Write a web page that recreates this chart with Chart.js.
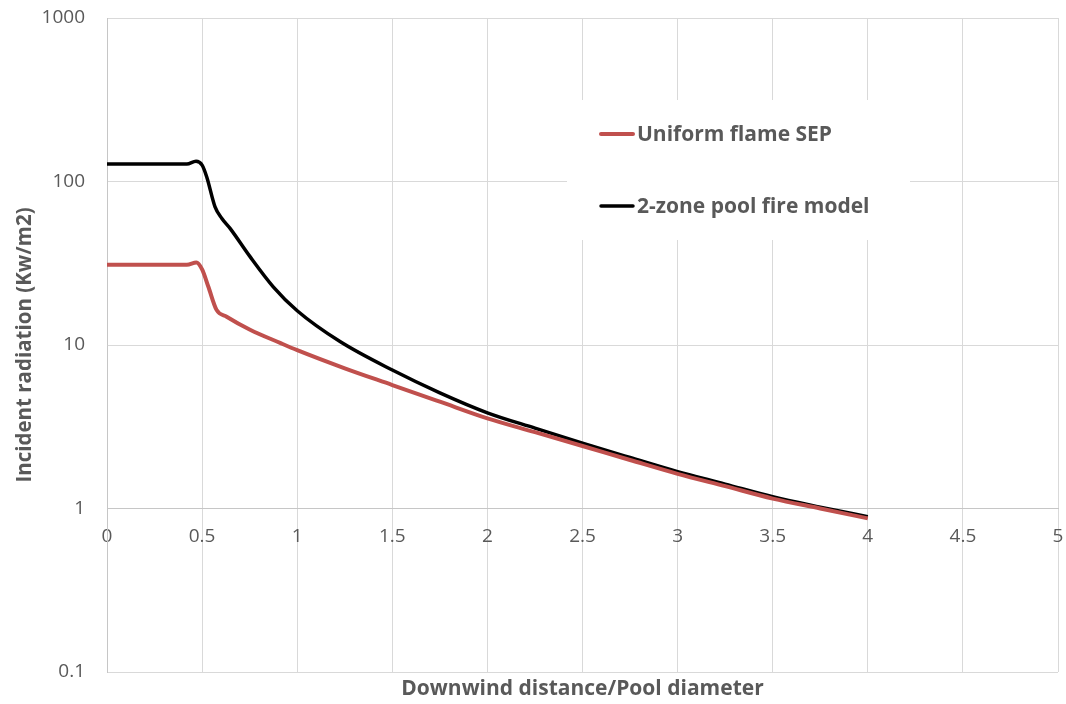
<!DOCTYPE html>
<html>
<head>
<meta charset="utf-8">
<script src="https://cdn.jsdelivr.net/npm/chart.js@4/dist/chart.umd.min.js"></script>
<style>
  html, body { margin: 0; padding: 0; background: #fff; }
  #wrap { width: 1066px; height: 704px; }
</style>
</head>
<body>
<div id="wrap"><canvas id="c" width="1066" height="704"></canvas></div>
<script>
// ---- data ----
const seriesNames = ['Uniform flame SEP', '2-zone pool fire model'];
const seriesColors = ['#c0504d', '#000000'];

const xUniform = [0, 0.42, 0.47, 0.5, 0.533, 0.576, 0.629, 0.752, 0.91, 1.0, 1.25, 1.5, 1.75, 2.0, 2.25, 2.5, 2.75, 3.0, 3.25, 3.5, 3.75, 4.0];
const yUniform = [31, 31, 32, 29, 22.7, 16.4, 14.9, 12.4, 10.3, 9.3, 7.2, 5.69, 4.5, 3.56, 2.93, 2.41, 1.98, 1.63, 1.37, 1.15, 1.0, 0.87];

const xTwoZone = [0, 0.42, 0.468, 0.5, 0.524, 0.568, 0.603, 0.647, 0.752, 0.874, 1.0, 1.225, 1.5, 1.75, 2.0, 2.25, 2.5, 2.75, 3.0, 3.25, 3.5, 3.75, 4.0];
const yTwoZone = [128, 128, 133, 126, 107, 70, 59.6, 51.7, 34.7, 22.7, 16.2, 10.5, 7.03, 5.1, 3.85, 3.1, 2.51, 2.05, 1.68, 1.41, 1.18, 1.02, 0.89];

const yTicks = [0.1, 1, 10, 100, 1000];
const xMin = 0, xMax = 5, xStep = 0.5;
const xTitle = 'Downwind distance/Pool diameter';
const yTitle = 'Incident radiation (Kw/m2)';

// ---- chart ----
const TXT = '#595959';
const GRID = '#d9d9d9';
const FONT = "'Open Sans', 'DejaVu Sans', sans-serif";
const CLEAR = 'rgba(0,0,0,0)';

function pts(xs, ys) { return xs.map((x, i) => ({ x: x, y: ys[i] })); }

const legendPlugin = {
  id: 'insideLegend',
  beforeDatasetsDraw(chart) {
    const ctx = chart.ctx;
    ctx.save();
    ctx.fillStyle = '#ffffff';
    ctx.fillRect(567, 100, 343, 140);
    const rows = [134, 206];
    seriesNames.forEach((name, i) => {
      const y = rows[i];
      ctx.strokeStyle = seriesColors[i];
      ctx.lineWidth = i === 0 ? 4 : 3.5;
      ctx.lineCap = 'round';
      ctx.beginPath();
      ctx.moveTo(601, y);
      ctx.lineTo(633, y);
      ctx.stroke();
      ctx.fillStyle = TXT;
      ctx.font = "bold 21px " + FONT;
      ctx.textBaseline = 'middle';
      ctx.textAlign = 'left';
      ctx.fillText(name, 637, y + 1);
    });
    ctx.restore();
  }
};

new Chart(document.getElementById('c'), {
  type: 'line',
  data: {
    datasets: [
      {
        label: seriesNames[0],
        data: pts(xUniform, yUniform),
        borderColor: seriesColors[0],
        borderWidth: 4,
        pointRadius: 0,
        cubicInterpolationMode: 'monotone',
        fill: false,
        xAxisID: 'x', yAxisID: 'y'
      },
      {
        label: seriesNames[1],
        data: pts(xTwoZone, yTwoZone),
        borderColor: seriesColors[1],
        borderWidth: 3.5,
        pointRadius: 0,
        cubicInterpolationMode: 'monotone',
        fill: false,
        xAxisID: 'x', yAxisID: 'y'
      }
    ]
  },
  options: {
    responsive: false,
    animation: false,
    events: [],
    layout: { padding: { left: 0, right: 8, top: 18, bottom: 0 } },
    plugins: { legend: { display: false }, tooltip: { enabled: false } },
    scales: {
      x: {
        type: 'linear',
        min: xMin, max: xMax,
        position: { y: 1 },
        grid: { color: GRID, lineWidth: 1, drawTicks: true, tickLength: 15, tickColor: CLEAR },
        border: { color: '#c6c6c6', width: 1 },
        ticks: {
          stepSize: xStep,
          padding: 2,
          color: TXT,
          font: { family: FONT, size: 19 },
          maxRotation: 0,
          autoSkip: false,
          callback: (v) => String(Math.round(v * 10) / 10)
        },
        title: { display: false }
      },
      x2: {
        type: 'linear',
        min: 0, max: 1,
        position: 'bottom',
        grid: { display: false, drawTicks: false },
        border: { display: false },
        ticks: { display: false },
        title: {
          display: true,
          text: xTitle,
          color: TXT,
          font: { family: FONT, size: 21, weight: 'bold' },
          padding: { top: 0, bottom: 2 }
        },
        afterFit(scale) { scale.height = 32; }
      },
      y: {
        type: 'logarithmic',
        min: 0.1, max: 1000,
        position: 'left',
        grid: { color: GRID, lineWidth: 1, drawTicks: true, tickLength: 20, tickColor: CLEAR },
        border: { color: '#c6c6c6', width: 1 },
        afterBuildTicks(scale) { scale.ticks = yTicks.map(v => ({ value: v })); },
        ticks: {
          padding: 2,
          color: TXT,
          font: { family: FONT, size: 19 },
          callback: (v) => String(v)
        },
        title: {
          display: true,
          text: yTitle,
          color: TXT,
          font: { family: FONT, size: 20.5, weight: 'bold' },
          padding: { top: 13, bottom: 0 }
        },
        afterFit(scale) { scale.width = 107; }
      }
    }
  },
  plugins: [legendPlugin]
});
</script>
</body>
</html>
